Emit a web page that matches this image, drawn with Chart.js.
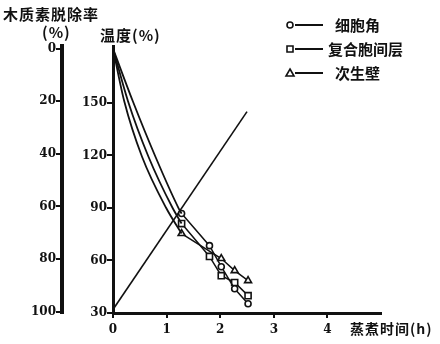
<!DOCTYPE html>
<html>
<head>
<meta charset="utf-8">
<script src="https://cdn.jsdelivr.net/npm/chart.js@4/dist/chart.umd.min.js"></script>
<style>
  html, body { margin: 0; padding: 0; background: #fff; }
</style>
</head>
<body>
<canvas id="ligninChart" width="440" height="344"></canvas>
<script>
// 测点时间 (h)
const sampleHours = [1.28, 1.8, 2.02, 2.27, 2.52];
// 木质素脱除率 (%)
const cornerRemoval = [62.7, 74.9, 82.9, 91.3, 97.0];   // 细胞角
const lamellaRemoval = [66.5, 79.0, 86.3, 88.9, 93.9];  // 复合胞间层
const wallRemoval = [70.3, null, 79.8, 84.4, 88.2];     // 次生壁

// 升温初期的脱木素曲线 (无测点)
const curveLevels = [0, 20, 41, 60.5];
const cornerCurveHours = [0, 0.37, 0.79, 1.22];
const lamellaCurveHours = [0, 0.28, 0.66, 1.11];
const wallCurveHours = [0, 0.21, 0.54, 0.99];

// 温度
const tempHours = [0, 2.5];
const tempValues = [32, 145];

const hourTicks = [0, 1, 2, 3, 4];
const removalTicks = [0, 20, 40, 60, 80, 100];
const tempTicks = [30, 60, 90, 120, 150];
const seriesNames = ['细胞角', '复合胞间层', '次生壁'];
const seriesMarks = ['circle', 'rect', 'triangle'];

const toPoints = (xs, ys) => xs.map((x, i) => ({ x: x, y: ys[i] })).filter(p => p.y !== null);

function curveData(hours, removal) {
  const pts = toPoints(hours, curveLevels);
  pts.push({ x: sampleHours[0], y: removal[0] });
  return pts;
}

const ink = '#111';
const tickFont = { family: 'DejaVu Serif', weight: 'bold', size: 12 };

function curveSet(hours, removal) {
  return {
    data: curveData(hours, removal),
    yAxisID: 'yRemoval',
    borderColor: ink,
    borderWidth: 1.8,
    pointRadius: 0,
    cubicInterpolationMode: 'monotone',
    fill: false
  };
}

function markSet(removal, style, radius) {
  return {
    data: toPoints(sampleHours, removal),
    yAxisID: 'yRemoval',
    borderColor: ink,
    borderWidth: 1.5,
    tension: 0,
    pointStyle: style,
    pointRadius: radius,
    pointBorderWidth: 1.6,
    pointBorderColor: ink,
    pointBackgroundColor: '#fff',
    fill: false
  };
}

// 图名、坐标名称与图例文字
const figureText = {
  id: 'figureText',
  afterDraw(chart) {
    const ctx = chart.ctx;
    ctx.save();
    ctx.fillStyle = ink;
    ctx.strokeStyle = ink;
    ctx.textBaseline = 'middle';
    ctx.font = 'bold 15px "Noto Sans CJK SC"';
    ctx.letterSpacing = '1px';
    ctx.fillText('木质素脱除率', 3, 14);
    ctx.fillText('(%)', 42, 32);
    ctx.fillText('温度(%)', 100, 35);
    ctx.font = 'bold 14px "Noto Sans CJK SC"';
    ctx.fillText('蒸煮时间(h)', 350, 329);

    const rows = [25, 49, 73];
    const textX = [335, 328, 335];
    ctx.font = 'bold 15px "Noto Sans CJK SC"';
    ctx.letterSpacing = '0px';
    rows.forEach((y, i) => {
      ctx.lineWidth = 2;
      ctx.beginPath();
      ctx.moveTo(295, y);
      ctx.lineTo(323, y);
      ctx.stroke();
      drawMark(ctx, seriesMarks[i], 290, y);
      ctx.fillStyle = ink;
      ctx.fillText(seriesNames[i], textX[i], y);
    });
    ctx.restore();
  }
};

function drawMark(ctx, style, x, y) {
  ctx.save();
  ctx.lineWidth = 1.6;
  ctx.fillStyle = '#fff';
  ctx.beginPath();
  if (style === 'circle') {
    ctx.arc(x, y, 3, 0, Math.PI * 2);
  } else if (style === 'rect') {
    ctx.rect(x - 3, y - 3, 6, 6);
  } else {
    ctx.moveTo(x, y - 4);
    ctx.lineTo(x + 4, y + 3);
    ctx.lineTo(x - 4, y + 3);
    ctx.closePath();
  }
  ctx.fill();
  ctx.stroke();
  ctx.restore();
}

const axisBorder = { display: true, color: ink, width: 3 };
const axisGrid = { drawOnChartArea: false, drawTicks: true, tickLength: 6, color: ink, lineWidth: 2 };

new Chart(document.getElementById('ligninChart'), {
  type: 'line',
  data: {
    datasets: [
      curveSet(cornerCurveHours, cornerRemoval),
      curveSet(lamellaCurveHours, lamellaRemoval),
      curveSet(wallCurveHours, wallRemoval),
      markSet(cornerRemoval, 'circle', 3),
      markSet(lamellaRemoval, 'rect', 4.3),
      markSet(wallRemoval, 'triangle', 4),
      {
        data: toPoints(tempHours, tempValues),
        yAxisID: 'yTemp',
        borderColor: ink,
        borderWidth: 1.6,
        pointRadius: 0,
        fill: false
      }
    ]
  },
  options: {
    responsive: false,
    animation: false,
    devicePixelRatio: 1,
    layout: { padding: { left: 0, top: 46, right: 59, bottom: 0 } },
    plugins: { legend: { display: false }, tooltip: { enabled: false } },
    scales: {
      x: {
        type: 'linear',
        position: 'bottom',
        min: 0,
        max: 5,
        afterBuildTicks: s => { s.ticks = hourTicks.map(v => ({ value: v })); },
        afterFit: s => { s.height = 31; },
        border: axisBorder,
        grid: Object.assign({}, axisGrid, { tickLength: 5 }),
        ticks: { color: ink, font: tickFont, padding: 5, maxRotation: 0 }
      },
      yRemoval: {
        type: 'linear',
        position: 'left',
        weight: 2,
        reverse: true,
        min: -1,
        max: 100.5,
        afterBuildTicks: s => { s.ticks = removalTicks.map(v => ({ value: v })); },
        afterFit: s => { s.width = 62; },
        border: Object.assign({}, axisBorder, { width: 4 }),
        grid: axisGrid,
        ticks: { color: ink, font: tickFont, padding: 0 }
      },
      yTemp: {
        type: 'linear',
        position: 'left',
        weight: 1,
        min: 30,
        max: 182.5,
        afterBuildTicks: s => { s.ticks = tempTicks.map(v => ({ value: v })); },
        afterFit: s => { s.width = 51; },
        border: axisBorder,
        grid: axisGrid,
        ticks: { color: ink, font: tickFont, padding: 0 }
      }
    }
  },
  plugins: [figureText]
});
</script>
</body>
</html>
